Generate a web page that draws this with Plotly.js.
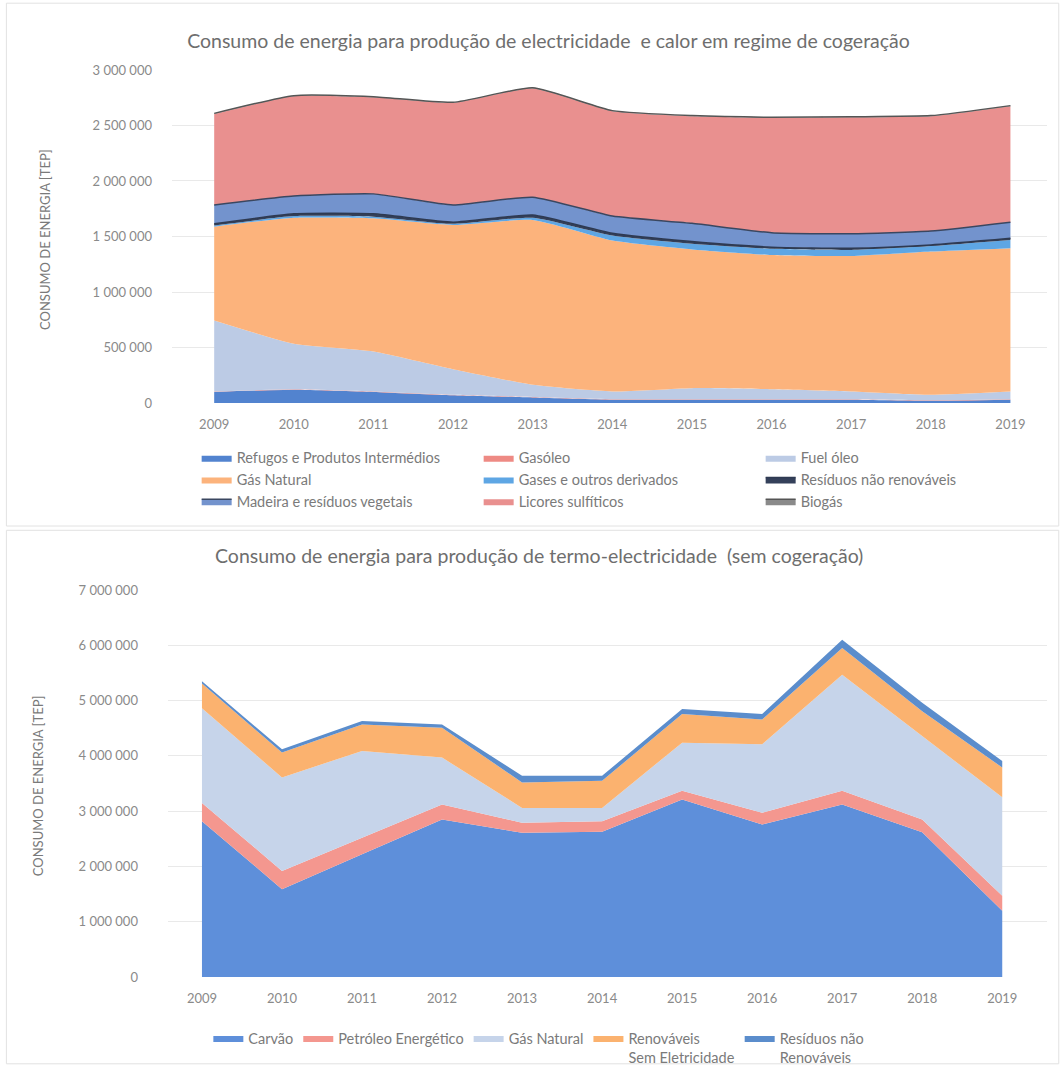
<!DOCTYPE html>
<html>
<head>
<meta charset="utf-8">
<script src="https://cdn.plot.ly/plotly-3.0.1.min.js"></script>
<style>
  html, body { margin: 0; padding: 0; background: #ffffff; }
  #chart { width: 1063px; height: 1067px; }
</style>
</head>
<body>
<div id="chart"></div>
<script>
// Anos
const years = [2009, 2010, 2011, 2012, 2013, 2014, 2015, 2016, 2017, 2018, 2019];
const yearLabels = years.map(String);

// Cogeração — consumo de energia (tep)
const refugos        = [100000, 120000, 100000, 70000, 50000, 30000, 30000, 30000, 30000, 20000, 30000];
const gasoleo        = [4000, 4000, 4000, 4000, 4000, 4000, 4000, 4000, 4000, 4000, 4000];
const fuelOleo       = [640000, 410000, 360000, 230000, 110000, 70000, 100000, 90000, 70000, 50000, 70000];
const gasNaturalCog  = [845000, 1135000, 1200000, 1300000, 1485000, 1360000, 1250000, 1210000, 1220000, 1290000, 1290000];
const gasesDerivados = [10000, 15000, 15000, 10000, 20000, 45000, 50000, 55000, 55000, 50000, 75000];
const residuosCog    = [15000, 20000, 25000, 15000, 25000, 20000, 20000, 15000, 15000, 10000, 15000];
const madeira        = [170000, 160000, 180000, 155000, 160000, 155000, 165000, 130000, 130000, 125000, 145000];
const licores        = [820000, 900000, 870000, 920000, 980000, 945000, 965000, 1035000, 1050000, 1035000, 1045000];
const biogas         = [5000, 5000, 5000, 5000, 5000, 5000, 5000, 5000, 5000, 5000, 5000];

// Termo-electricidade sem cogeração (tep)
const carvao          = [2820000, 1590000, 2220000, 2850000, 2610000, 2630000, 3210000, 2760000, 3120000, 2620000, 1200000];
const petroleo        = [330000, 330000, 300000, 270000, 180000, 190000, 160000, 210000, 250000, 230000, 270000];
const gasNaturalTermo = [1710000, 1690000, 1570000, 850000, 270000, 240000, 870000, 1240000, 2100000, 1510000, 1780000];
const renovaveis      = [450000, 450000, 480000, 540000, 460000, 490000, 520000, 450000, 480000, 450000, 540000];
const residuosTermo   = [40000, 60000, 60000, 60000, 120000, 90000, 90000, 100000, 150000, 150000, 120000];

const FONT = 'Lato, "Open Sans", sans-serif';

function cogTrace(name, values, fill, lineColor, lineWidth) {
  return {
    type: 'scatter', mode: 'lines', name: name, x: years, y: values,
    stackgroup: 'cog', xaxis: 'x', yaxis: 'y', legend: 'legend',
    fillcolor: fill,
    line: { color: lineColor, width: lineWidth, shape: 'spline', smoothing: 0.5 },
    hoverinfo: 'name+y'
  };
}

function termoTrace(name, values, fill, lineColor, lineWidth) {
  return {
    type: 'scatter', mode: 'lines', name: name, x: years, y: values,
    stackgroup: 'termo', xaxis: 'x2', yaxis: 'y2', legend: 'legend2',
    fillcolor: fill,
    line: { color: lineColor, width: lineWidth },
    hoverinfo: 'name+y'
  };
}

const traces = [
  cogTrace('Refugos e Produtos Intermédios', refugos, '#5283cf', '#5283cf', 0),
  cogTrace('Gasóleo', gasoleo, '#ee8a84', '#ee8a84', 0),
  cogTrace('Fuel óleo', fuelOleo, '#bccbe5', '#a9b4c4', 0),
  cogTrace('Gás Natural', gasNaturalCog, '#fcb37c', '#fcb37c', 0),
  cogTrace('Gases e outros derivados', gasesDerivados, '#5ea6e4', '#5ea6e4', 0),
  cogTrace('Resíduos não renováveis', residuosCog, '#34405a', '#2e3a52', 1.5),
  cogTrace('Madeira e resíduos vegetais', madeira, '#7393cd', '#3a4760', 1.5),
  cogTrace('Licores sulfíticos', licores, '#e9908f', '#c4897a', 0),
  cogTrace('Biogás', biogas, '#8a8a8a', '#555555', 1.5),

  termoTrace('Carvão', carvao, '#5e8fda', '#5e8fda', 0),
  termoTrace('Petróleo Energético', petroleo, '#f4978f', '#f4978f', 0),
  termoTrace('Gás Natural', gasNaturalTermo, '#c6d4ea', '#b5bcc6', 0),
  termoTrace('Renováveis<br>Sem Eletricidade', renovaveis, '#fbb26f', '#fbb26f', 0),
  termoTrace('Resíduos não<br>Renováveis', residuosTermo, '#5b8dcc', '#5b8dcc', 0)
];

const tickFont = { family: FONT, size: 13, color: '#8a8a8a' };
const legendFont = { family: FONT, size: 14.5, color: '#7a7a7a' };
const titleFont = { family: FONT, size: 19.5, color: '#6e6e6e' };

const layout = {
  width: 1063, height: 1067,
  margin: { l: 0, r: 0, t: 0, b: 0, autoexpand: false },
  paper_bgcolor: '#ffffff', plot_bgcolor: '#ffffff',
  separators: ', ',
  font: { family: FONT, color: '#777777' },
  showlegend: true,
  title: {
    text: 'Consumo de energia para produção de electricidade  e calor em regime de cogeração',
    x: 0.516, xanchor: 'center', y: 0.961, yanchor: 'middle',
    font: titleFont
  },
  xaxis: {
    domain: [0.1618, 0.985], range: [2008.47, 2019.46],
    tickmode: 'array', tickvals: years, ticktext: yearLabels,
    showgrid: false, zeroline: false, showline: false, ticks: '',
    tickfont: tickFont, ticklabelstandoff: 12, anchor: 'y', fixedrange: true
  },
  yaxis: {
    domain: [0.6223, 0.9344], range: [0, 3000000], dtick: 500000, tick0: 0,
    tickformat: ',d', gridcolor: '#e9e9e9', gridwidth: 1, zeroline: false,
    showline: false, ticks: '', tickfont: tickFont, ticklabelstandoff: 19,
    anchor: 'x', fixedrange: true
  },
  xaxis2: {
    domain: [0.158, 0.985], range: [2008.575, 2019.56],
    tickmode: 'array', tickvals: years, ticktext: yearLabels,
    showgrid: false, zeroline: false, showline: false, ticks: '',
    tickfont: tickFont, ticklabelstandoff: 12, anchor: 'y2', fixedrange: true
  },
  yaxis2: {
    domain: [0.0843, 0.447], range: [0, 7000000], dtick: 1000000, tick0: 0,
    tickformat: ',d', gridcolor: '#e9e9e9', gridwidth: 1, zeroline: false,
    showline: false, ticks: '', tickfont: tickFont, ticklabelstandoff: 29,
    anchor: 'x2', fixedrange: true
  },
  legend: {
    orientation: 'h', traceorder: 'normal',
    x: 0.185, xanchor: 'left', y: 0.586, yanchor: 'top',
    entrywidth: 237, entrywidthmode: 'pixels',
    font: legendFont,
    bgcolor: 'rgba(0,0,0,0)', itemclick: false, itemdoubleclick: false
  },
  legend2: {
    orientation: 'h', traceorder: 'normal', valign: 'top',
    x: 0.196, xanchor: 'left', y: 0.042, yanchor: 'top',
    font: legendFont,
    bgcolor: 'rgba(0,0,0,0)', itemclick: false, itemdoubleclick: false
  },
  annotations: [
    {
      text: 'Consumo de energia para produção de termo-electricidade  (sem cogeração)',
      xref: 'paper', yref: 'paper', x: 0.507, y: 0.479, xanchor: 'center', yanchor: 'middle',
      showarrow: false, font: titleFont
    },
    {
      text: 'CONSUMO DE ENERGIA [TEP]', textangle: -90,
      xref: 'paper', yref: 'paper', x: 0.0423, y: 0.776, xanchor: 'center', yanchor: 'middle',
      showarrow: false, font: { family: FONT, size: 13, color: '#7a7a7a' }
    },
    {
      text: 'CONSUMO DE ENERGIA [TEP]', textangle: -90,
      xref: 'paper', yref: 'paper', x: 0.0357, y: 0.264, xanchor: 'center', yanchor: 'middle',
      showarrow: false, font: { family: FONT, size: 13, color: '#7a7a7a' }
    }
  ],
  shapes: [
    // frames around the two charts
    { type: 'rect', xref: 'paper', yref: 'paper', x0: 0.006, x1: 0.996, y0: 0.507, y1: 0.997,
      line: { color: '#e2e2e2', width: 1 } },
    { type: 'rect', xref: 'paper', yref: 'paper', x0: 0.006, x1: 0.996, y0: 0.003, y1: 0.503,
      line: { color: '#e2e2e2', width: 1 } }
  ]
};

Plotly.newPlot('chart', traces, layout, { displayModeBar: false, staticPlot: false });
</script>
</body>
</html>
